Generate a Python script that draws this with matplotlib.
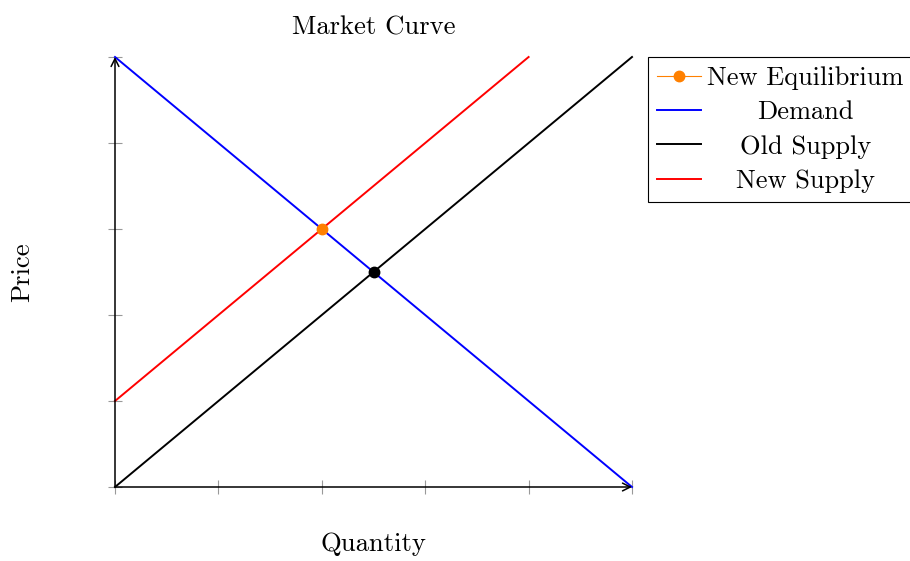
import matplotlib
matplotlib.use("Agg")
import matplotlib.pyplot as plt

plt.rcParams['font.family'] = ['cmr10', 'DejaVu Serif']
plt.rcParams['axes.formatter.use_mathtext'] = True

# Data
demand_q = [0, 10]
demand_p = [10, 0]
old_supply_q = [0, 10]
old_supply_p = [0, 10]
new_supply_q = [0, 8]
new_supply_p = [2, 10]
new_eq_q = [4]
new_eq_p = [6]
old_eq_q = [5]
old_eq_p = [5]
x_ticks = [0, 2, 4, 6, 8, 10]
y_ticks = [0, 2, 4, 6, 8, 10]

fig = plt.figure(figsize=(9.1, 5.61), dpi=100)
ax = fig.add_axes([115/910, 74/561, 517/910, 430/561])

ax.plot(new_eq_q, new_eq_p, '-o', color='#ff8000', lw=0.8, markersize=7.5,
        label='New Equilibrium', zorder=5, clip_on=False)
ax.plot(demand_q, demand_p, color='blue', lw=1.4, label='Demand', clip_on=False)
ax.plot(old_supply_q, old_supply_p, color='black', lw=1.4, label='Old Supply', clip_on=False)
ax.plot(new_supply_q, new_supply_p, color='red', lw=1.4, label='New Supply', clip_on=False)
ax.plot(old_eq_q, old_eq_p, 'o', color='black', markersize=7.5, zorder=5)

ax.set_xlim(0, 10)
ax.set_ylim(0, 10)
ax.set_xticks(x_ticks)
ax.set_yticks(y_ticks)
ax.set_xticklabels([])
ax.set_yticklabels([])
ax.tick_params(direction='inout', length=10, width=0.8, color='#999999')

for s in ax.spines.values():
    s.set_visible(False)
ax.annotate('', xy=(0, 1), xytext=(0, 0), xycoords='axes fraction',
            arrowprops=dict(arrowstyle='->', color='black', lw=1.1, shrinkA=0, shrinkB=0,
                            mutation_scale=14))
ax.annotate('', xy=(1, 0), xytext=(0, 0), xycoords='axes fraction',
            arrowprops=dict(arrowstyle='->', color='black', lw=1.1, shrinkA=0, shrinkB=0,
                            mutation_scale=14))

fs = 19.2
ax.set_title('Market Curve', fontsize=fs, pad=16)
ax.set_xlabel('Quantity', fontsize=fs, labelpad=24)
ax.set_ylabel('Price', fontsize=fs, labelpad=50)

leg = ax.legend(loc='upper left', bbox_to_anchor=(1.031, 1.0), borderaxespad=0,
                fontsize=19, fancybox=False, edgecolor='black', framealpha=1,
                handlelength=1.65, handletextpad=0.25, borderpad=0.35, labelspacing=0.4)
leg.get_frame().set_linewidth(0.8)

fig.canvas.draw()
renderer = fig.canvas.get_renderer()
texts = leg.get_texts()
widths = [t.get_window_extent(renderer).width for t in texts]
maxw = max(widths)
for t, w in zip(texts, widths):
    t.set_x((maxw - w) / 2)

fig.savefig('out.png', dpi=100)
